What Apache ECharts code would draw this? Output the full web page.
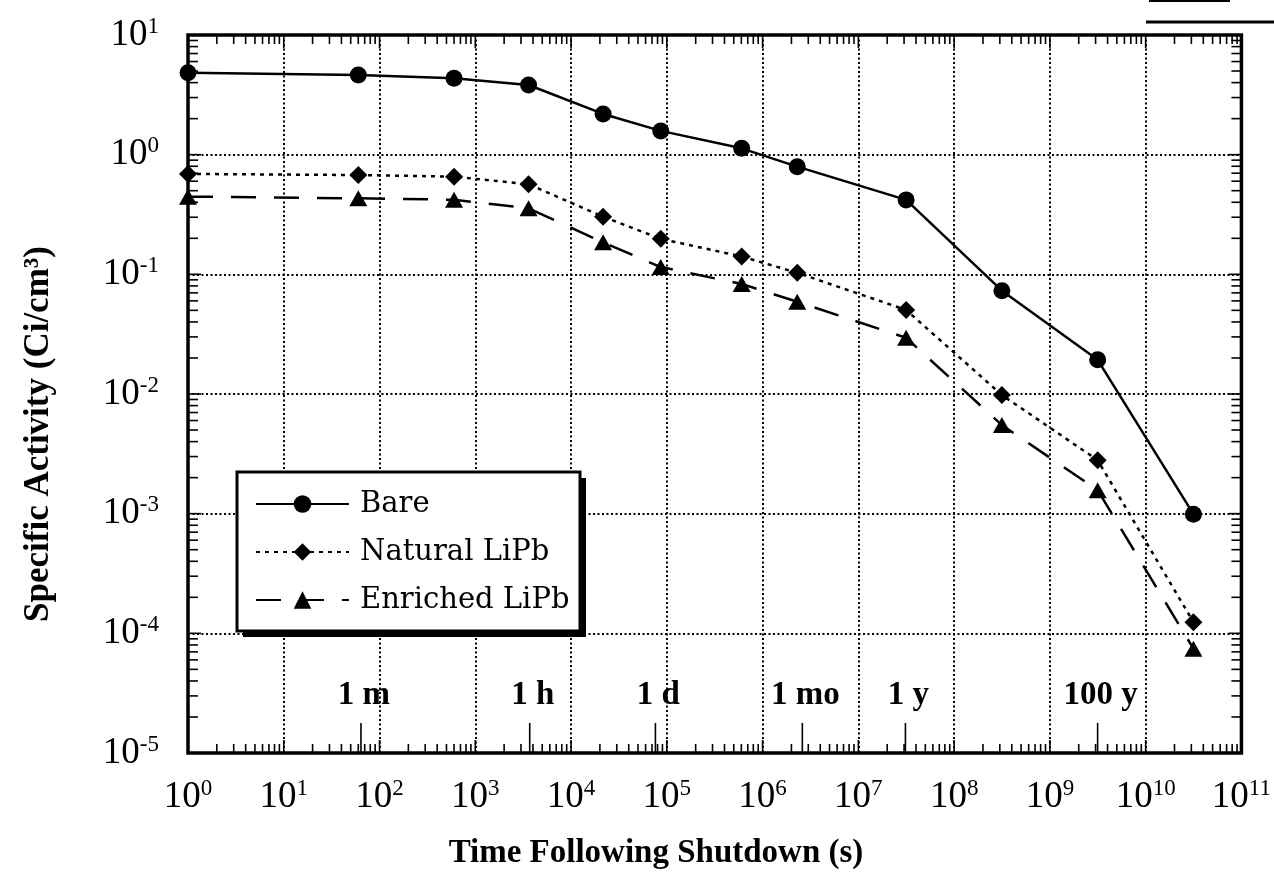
<!DOCTYPE html>
<html><head><meta charset="utf-8">
<script src="https://cdn.jsdelivr.net/npm/echarts@6/dist/echarts.min.js"></script>
<style>html,body{margin:0;padding:0;background:#fff}#c{width:1274px;height:874px}</style>
</head><body><div id="c"></div>
<script>
// ---- data ----
const times    = [1, 60, 600, 3600, 21600, 86400, 604800, 2.3e6, 3.1536e7, 3.1536e8, 3.1536e9, 3.1536e10];
const bare     = [4.84, 4.64, 4.35, 3.82, 2.19, 1.58, 1.13, 0.794, 0.419, 0.073, 0.0193, 0.00099];
const natural  = [0.69, 0.676, 0.655, 0.566, 0.303, 0.198, 0.141, 0.103, 0.0504, 0.0098, 0.0028, 0.000124];
const enriched = [0.446, 0.432, 0.42, 0.356, 0.185, 0.115, 0.083, 0.059, 0.0295, 0.0055, 0.00157, 0.0000745];
const seriesNames = ['Bare', 'Natural LiPb', 'Enriched LiPb'];
const timeMarkLabels = ['1 m', '1 h', '1 d', '1 mo', '1 y', '100 y'];
const timeMarkValues = [64, 3700, 76000, 2.6e6, 3.1e7, 3.15e9];
const xExpRange = [0, 11];   // x tick labels 10^0 ... 10^11
const yExpRange = [-5, 1];   // y tick labels 10^-5 ... 10^1
const xTitle = 'Time Following Shutdown (s)';
const yTitle = 'Specific Activity (Ci/cm\u00B3)';

// tick values (decades and 2..9 sub-decades)
function decades(r){ const o=[]; for(let e=r[0]; e<=r[1]; e++) o.push(Math.pow(10,e)); return o; }
function minors(r){ const o=[]; for(let e=r[0]; e<r[1]; e++) for(let m=2;m<=9;m++) o.push(m*Math.pow(10,e)); return o; }
const xMajor = decades(xExpRange), xMinor = minors(xExpRange);
const yMajor = decades(yExpRange), yMinor = minors(yExpRange);

const SERIF = 'Liberation Serif';
const labelRich = {
  b: {fontFamily: SERIF, fontSize: 37, color: '#000', lineHeight: 40},
  s: {fontFamily: SERIF, fontSize: 23, color: '#000', lineHeight: 20, verticalAlign: 'top'}
};
function expLabel(e){ return '{b|10}{s|' + e + '}'; }
function powLabel(v){ return expLabel(Math.round(Math.log10(v))); }

const BLACK = '#000';
const chart = echarts.init(document.getElementById('c'), null, {renderer: 'canvas'});

function tickItem(isX, len){
  return function(params, api){
    const cs = params.coordSys;
    const p = api.coord([api.value(0), api.value(1)]);
    const st = {stroke: BLACK, lineWidth: 1.6};
    if (isX) {
      const x = p[0], b = cs.y + cs.height, t = cs.y;
      return {type:'group', children:[
        {type:'line', shape:{x1:x, y1:b, x2:x, y2:b-len}, style:st},
        {type:'line', shape:{x1:x, y1:t, x2:x, y2:t+len}, style:st}
      ]};
    } else {
      const y = p[1], l = cs.x, r = cs.x + cs.width;
      return {type:'group', children:[
        {type:'line', shape:{x1:l, y1:y, x2:l+len, y2:y}, style:st},
        {type:'line', shape:{x1:r, y1:y, x2:r-len, y2:y}, style:st}
      ]};
    }
  };
}

const LEG = {x: 237, y: 472, w: 343, h: 159};
const gridDots = {color: BLACK, width: 2, type: [2, 2.5]};

const option = {
  backgroundColor: '#fff',
  animation: false,
  grid: {left: 188, top: 35, width: 1055, height: 718, show: true, borderColor: BLACK, borderWidth: 3.5, backgroundColor: 'transparent', containLabel: false},
  xAxis: [
    { // data axis (log scale)
      type: 'log', logBase: 10, min: xMajor[0], max: xMajor[xMajor.length-1], show: false
    },
    { // decade labels + grid, in exponent units, spanning the same grid
      type: 'value', position: 'bottom', min: xExpRange[0], max: xExpRange[1], interval: 1,
      axisLine: {show: false}, axisTick: {show: false},
      splitLine: {show: true, lineStyle: gridDots},
      axisLabel: {formatter: expLabel, rich: labelRich, margin: 24, showMinLabel: true, showMaxLabel: true, hideOverlap: false}
    }
  ],
  yAxis: {
    type: 'log', logBase: 10, min: yMajor[0], max: yMajor[yMajor.length-1], splitNumber: 6,
    axisLine: {show: false}, axisTick: {show: false},
    splitLine: {show: true, interval: 0, lineStyle: gridDots},
    axisLabel: {formatter: powLabel, rich: labelRich, margin: 29, interval: 0, align: 'right', showMinLabel: true, showMaxLabel: true}
  },
  legend: {
    orient: 'vertical', left: 237, top: 474, data: seriesNames, z: 6,
    itemWidth: 93, itemHeight: 22, itemGap: 18,
    padding: [15, 14, 16, 18],
    backgroundColor: 'transparent', borderWidth: 0,
    textStyle: {fontFamily: 'DejaVu Serif', fontSize: 29, color: BLACK, lineHeight: 30, padding: [0, 0, 0, 6]}
  },
  graphic: [
    {type:'rect', z: 5, shape:{x: LEG.x + 6, y: LEG.y + 6, width: LEG.w, height: LEG.h}, style:{fill: BLACK}},
    {type:'rect', z: 5, shape:{x: LEG.x, y: LEG.y, width: LEG.w, height: LEG.h}, style:{fill: '#fff', stroke: BLACK, lineWidth: 3}},
    {type:'text', style:{text: xTitle, font: 'bold 33px "Liberation Serif"', fill: BLACK, textAlign:'center', textVerticalAlign:'middle', x: 656, y: 853}},
    {type:'text', x: 39, y: 434, rotation: Math.PI/2, style:{text: yTitle, font: 'bold 35px "Liberation Serif"', fill: BLACK, textAlign:'center', textVerticalAlign:'middle'}},
    {type:'line', shape:{x1:1146, y1:22, x2:1274, y2:22}, style:{stroke: BLACK, lineWidth: 3}},
    {type:'line', shape:{x1:1149, y1:1, x2:1230, y2:1}, style:{stroke: BLACK, lineWidth: 2}}
  ],
  series: [
    {name: seriesNames[0], type:'line', data: times.map((t,i)=>[t, bare[i]]), symbol:'circle', symbolSize: 17,
     lineStyle:{color: BLACK, width: 2.5, type:'solid'}, itemStyle:{color: BLACK}, z: 10, clip: false},
    {name: seriesNames[1], type:'line', data: times.map((t,i)=>[t, natural[i]]), symbol:'diamond', symbolSize: [18, 18],
     lineStyle:{color: BLACK, width: 2.5, type:[4, 5]}, itemStyle:{color: BLACK}, z: 10, clip: false},
    {name: seriesNames[2], type:'line', data: times.map((t,i)=>[t, enriched[i]]), symbol:'triangle', symbolSize: [18, 16],
     lineStyle:{color: BLACK, width: 2.5, type:[25, 18]}, itemStyle:{color: BLACK}, z: 10, clip: false},
    {name:'_xminor', type:'custom', silent:true, z: 4, data: xMinor.map(v=>[v, 1]), renderItem: tickItem(true, 9)},
    {name:'_xmajor', type:'custom', silent:true, z: 4, data: xMajor.map(v=>[v, 1]), renderItem: tickItem(true, 13)},
    {name:'_yminor', type:'custom', silent:true, z: 4, data: yMinor.map(v=>[1, v]), renderItem: tickItem(false, 10)},
    {name:'_ymajor', type:'custom', silent:true, z: 4, data: yMajor.map(v=>[1, v]), renderItem: tickItem(false, 13)},
    {name:'_timemarks', type:'custom', silent:true, z: 4, data: timeMarkValues.map(v=>[v, 1]),
     renderItem: function(params, api){
       const cs = params.coordSys;
       const x = api.coord([api.value(0), api.value(1)])[0];
       const b = cs.y + cs.height;
       return {type:'group', children:[
         {type:'line', shape:{x1:x, y1:b, x2:x, y2:b-30}, style:{stroke: BLACK, lineWidth: 1.6}},
         {type:'text', x: x + 3, y: b - 58, style:{text: timeMarkLabels[params.dataIndex], font: 'bold 33px "Liberation Serif"', fill: BLACK, textAlign:'center', textVerticalAlign:'middle'}}
       ]};
     }}
  ]
};
chart.setOption(option);
</script>
</body></html>
